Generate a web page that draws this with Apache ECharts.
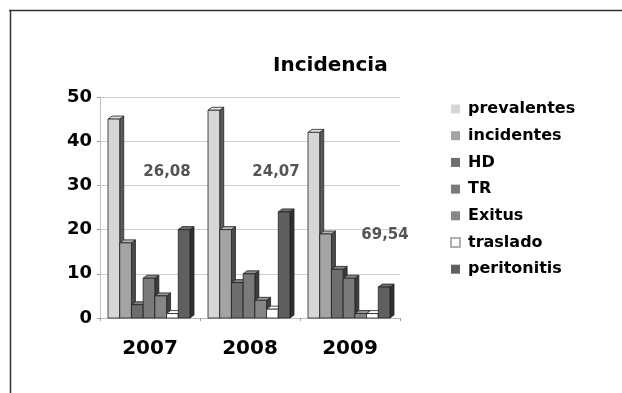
<!DOCTYPE html>
<html>
<head>
<meta charset="utf-8">
<script src="https://cdn.jsdelivr.net/npm/echarts@6/dist/echarts.min.js"></script>
<style>
  html, body { margin: 0; padding: 0; background: #fff; }
  #chart { width: 622px; height: 393px; }
</style>
</head>
<body>
<div id="chart"></div>
<script>
// Yearly counts per group
const years = ['2007', '2008', '2009'];
const prevalentes = [45, 47, 42];
const incidentes = [17, 20, 19];
const hd = [3, 8, 11];
const tr = [9, 10, 9];
const exitus = [5, 4, 1];
const traslado = [1, 2, 1];
const peritonitis = [20, 24, 7];
const seriesNames = ['prevalentes', 'incidentes', 'HD', 'TR', 'Exitus', 'traslado', 'peritonitis'];
const seriesValues = [prevalentes, incidentes, hd, tr, exitus, traslado, peritonitis];
const yTicks = [0, 10, 20, 30, 40, 50];
// Rates written over each year's group
const rateLabels = ['26,08', '24,07', '69,54'];

const frontColors = ['#d6d6d6', '#a4a4a4', '#6e6e6e', '#7a7a7a', '#868686', '#ffffff', '#5f5f5f'];
const sideColors  = ['#5a5a5a', '#4a4a4a', '#383838', '#3c3c3c', '#404040', '#9a9a9a', '#303030'];
const topColors   = ['#e2e2e2', '#b4b4b4', '#808080', '#8a8a8a', '#969696', '#ffffff', '#707070'];

const FONT = 'DejaVu Sans';
const DEPTH_X = 4, DEPTH_Y = 3;

// Draws one pseudo-3D column: front face, right side and top face
function renderColumn(params, api) {
  const si = params.seriesIndex;
  const c = api.value(0), v = api.value(1);
  const base = api.coord([c, 0]);
  const top = api.coord([c, v]);
  const band = api.size([1, 0])[0];
  const w = band * 0.82 / 7;
  const x0 = base[0] - band * 0.42 + si * w;
  const x1 = x0 + w;
  const yb = base[1], yt = top[1];
  const stroke = { stroke: '#222', lineWidth: 0.8 };
  return {
    type: 'group',
    children: [
      {
        type: 'polygon',
        shape: { points: [[x1, yt], [x1 + DEPTH_X, yt - DEPTH_Y], [x1 + DEPTH_X, yb - DEPTH_Y], [x1, yb]] },
        style: Object.assign({ fill: sideColors[si] }, stroke)
      },
      {
        type: 'polygon',
        shape: { points: [[x0, yt], [x0 + DEPTH_X, yt - DEPTH_Y], [x1 + DEPTH_X, yt - DEPTH_Y], [x1, yt]] },
        style: Object.assign({ fill: topColors[si] }, stroke)
      },
      {
        type: 'rect',
        shape: { x: x0, y: yt, width: w, height: yb - yt },
        style: Object.assign({ fill: frontColors[si] }, stroke)
      }
    ]
  };
}

const series = seriesNames.map((name, i) => ({
  name: name,
  type: 'custom',
  renderItem: renderColumn,
  itemStyle: frontColors[i] === '#ffffff'
    ? { color: '#ffffff', borderColor: '#b0b0b0', borderWidth: 1 }
    : { color: frontColors[i], borderWidth: 0 },
  encode: { x: 0, y: 1 },
  data: seriesValues[i].map((v, k) => [k, v]),
  z: 2 + i
}));

const chart = echarts.init(document.getElementById('chart'), null, { renderer: 'canvas' });
chart.setOption({
  animation: false,
  backgroundColor: '#ffffff',
  title: {
    text: 'Incidencia',
    left: 268,
    top: 51,
    textStyle: { fontFamily: FONT, fontWeight: 'bold', fontSize: 20, color: '#000' }
  },
  legend: {
    orient: 'vertical',
    left: 445,
    top: 96,
    itemWidth: 9,
    itemHeight: 9,
    itemGap: 10.7,
    icon: 'rect',
    data: seriesNames,
    textStyle: { fontFamily: FONT, fontWeight: 'bold', fontSize: 16, color: '#000', lineHeight: 16, padding: [0, 0, 0, 3] }
  },
  grid: { left: 100, right: 222, top: 97, bottom: 75, containLabel: false },
  xAxis: {
    type: 'category',
    data: years,
    axisLine: { lineStyle: { color: '#bdbdbd', width: 1 } },
    axisTick: { show: true, length: 3, lineStyle: { color: '#9a9a9a' } },
    axisLabel: { margin: 21, fontFamily: FONT, fontWeight: 'bold', fontSize: 20, color: '#000' },
    splitLine: { show: false }
  },
  yAxis: {
    type: 'value',
    min: yTicks[0],
    max: yTicks[yTicks.length - 1],
    interval: yTicks[1] - yTicks[0],
    axisLine: { show: true, lineStyle: { color: '#c4c4c4' } },
    axisTick: { show: true, length: 3, lineStyle: { color: '#9a9a9a' } },
    axisLabel: { margin: 8, fontFamily: FONT, fontWeight: 'bold', fontSize: 18, color: '#000' },
    splitLine: { lineStyle: { color: '#cfcfcf', width: 1 } }
  },
  graphic: [
    { type: 'line', shape: { x1: 9, y1: 10.5, x2: 622, y2: 10.5 }, style: { stroke: '#333', lineWidth: 1.5 }, z: 10 },
    { type: 'line', shape: { x1: 10.5, y1: 10, x2: 10.5, y2: 393 }, style: { stroke: '#333', lineWidth: 1.5 }, z: 10 },
    { type: 'text', x: 167, y: 172, style: { text: rateLabels[0], fontFamily: FONT, fontWeight: 'bold', fontSize: 15, fill: '#555', align: 'center', verticalAlign: 'middle' }, z: 20 },
    { type: 'text', x: 276, y: 172, style: { text: rateLabels[1], fontFamily: FONT, fontWeight: 'bold', fontSize: 15, fill: '#555', align: 'center', verticalAlign: 'middle' }, z: 20 },
    { type: 'text', x: 385, y: 235, style: { text: rateLabels[2], fontFamily: FONT, fontWeight: 'bold', fontSize: 15, fill: '#555', align: 'center', verticalAlign: 'middle' }, z: 20 }
  ],
  series: series
});
</script>
</body>
</html>
